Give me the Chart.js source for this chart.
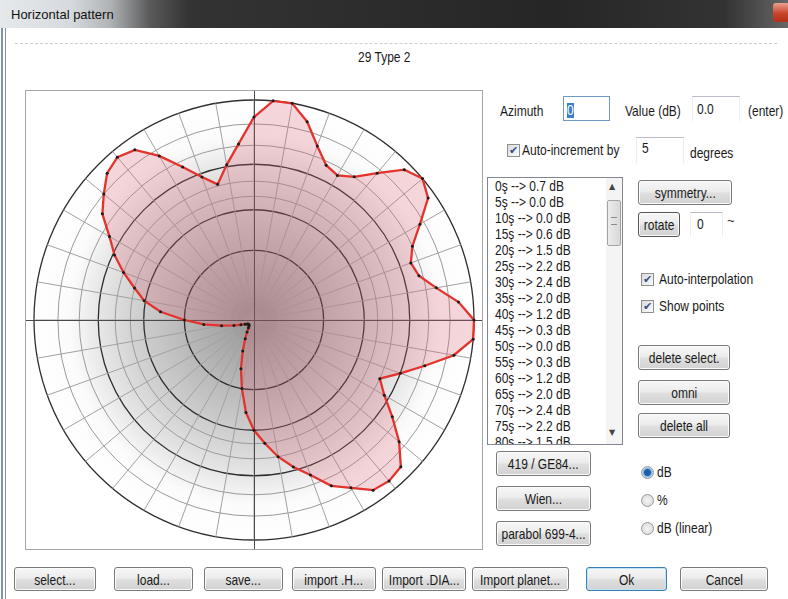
<!DOCTYPE html>
<html><head><meta charset="utf-8">
<script src="https://cdn.jsdelivr.net/npm/chart.js@4.4.1/dist/chart.umd.min.js"></script>
<style>
html,body{margin:0;padding:0;}
body{width:788px;height:599px;position:relative;overflow:hidden;background:#fff;
  font-family:'Liberation Sans',Arial,sans-serif;font-size:15px;color:#1a1a1a;}
.a{position:absolute;white-space:nowrap;line-height:16px;}
.n{display:inline-block;transform:scaleX(0.8);transform-origin:0 50%;}
#titlebar{left:0;top:0;width:788px;height:28px;
  background:linear-gradient(90deg,#e6e9ec 0%,#d6dade 9%,#b0b3b6 14%,#5a5a5a 19%,#333 24%,#262626 70%,#333 92%,#666 100%);}
#titletext{left:11px;top:7px;font-size:13px;color:#111;}
#closebtn{left:773px;top:3px;width:15px;height:19px;background:linear-gradient(#e9a090,#c8452a 55%,#b03018);border-radius:3px 0 0 3px;}
.btn{position:absolute;box-sizing:border-box;border:1px solid #7a7a7a;border-radius:3px;white-space:nowrap;
  background:linear-gradient(#f7f7f7 0%,#ececec 45%,#dedede 55%,#d2d2d2 100%);
  box-shadow:inset 0 0 0 1px #fbfbfb;display:flex;align-items:center;justify-content:center;font-size:15px;color:#1a1a1a;}
.btn span{display:inline-block;transform:scaleX(0.8);flex:none;}
.cb{position:absolute;box-sizing:border-box;width:13px;height:13px;border:1px solid #8e8f8f;
  background:linear-gradient(135deg,#dcdcdc,#fafafa);font-family:'DejaVu Sans',sans-serif;font-size:11px;line-height:11px;text-align:center;color:#3b4f8c;}
.rb{position:absolute;box-sizing:border-box;width:13px;height:13px;border:1px solid #9a9a9a;border-radius:50%;
  background:radial-gradient(circle,#f4f4f4,#d6d6d6);}
.row{position:absolute;left:495px;height:16px;line-height:16px;font-size:15px;white-space:nowrap;}
.inp{position:absolute;box-sizing:border-box;border-top:1px solid #b8bcc4;border-left:1px solid #eceef2;border-right:1px solid #eceef2;}
</style></head>
<body>
<div class="a" id="titlebar"></div>
<div class="a" id="titletext">Horizontal pattern</div>
<div class="a" id="closebtn"></div>
<div class="a" style="left:1px;top:28px;width:2px;height:571px;background:#8193ab;"></div>
<div class="a" style="left:5px;top:28px;width:1px;height:571px;background:#8193ab;"></div>
<div class="a" style="left:15px;top:43px;width:762px;height:0;border-top:1px dashed #cfcfcf;"></div>
<div class="a" style="left:358px;top:49px;"><span class="n">29 Type 2</span></div>

<div class="a" style="left:25px;top:90px;width:458px;height:460px;box-sizing:border-box;border:1px solid #a5a5a5;">
  <canvas id="c" width="456" height="458" style="display:block;width:456px;height:458px;"></canvas>
</div>

<!-- right panel -->
<div class="a" style="left:500px;top:103px;"><span class="n">Azimuth</span></div>
<div class="a" style="left:563px;top:96px;width:47px;height:25px;box-sizing:border-box;border:1px solid #6f9ac4;background:#fff;"></div>
<div class="a" style="left:567px;top:103px;width:7px;height:15px;background:#3b7fd0;"></div>
<div class="a" style="left:567px;top:102px;color:#fff;"><span class="n">0</span></div>
<div class="a" style="left:625px;top:103px;"><span class="n">Value (dB)</span></div>
<div class="inp" style="left:692px;top:96px;width:48px;height:25px;"></div>
<div class="a" style="left:697px;top:101px;"><span class="n">0.0</span></div>
<div class="a" style="left:748px;top:103px;"><span class="n">(enter)</span></div>

<div class="cb" style="left:507px;top:144px;">✔</div>
<div class="a" style="left:522px;top:142px;"><span class="n">Auto-increment by</span></div>
<div class="inp" style="left:636px;top:137px;width:48px;height:26px;"></div>
<div class="a" style="left:642px;top:140px;"><span class="n">5</span></div>
<div class="a" style="left:690px;top:145px;"><span class="n">degrees</span></div>

<!-- list box -->
<div class="a" style="left:487px;top:177px;width:136px;height:268px;box-sizing:border-box;border:1px solid #828790;background:#fff;"></div>
<div id="list"></div>
<div class="a" style="left:606px;top:178px;width:16px;height:266px;background:#f4f4f4;"></div>
<div class="a" style="left:609px;top:182px;font-family:'DejaVu Sans',sans-serif;font-size:8px;line-height:10px;color:#444;">▲</div>
<div class="a" style="left:609px;top:428px;font-family:'DejaVu Sans',sans-serif;font-size:8px;line-height:10px;color:#444;">▼</div>
<div class="a" style="left:607px;top:200px;width:14px;height:46px;box-sizing:border-box;border:1px solid #a4a4a4;border-radius:2px;background:linear-gradient(90deg,#ececec,#d8d8d8);"></div>
<div class="a" style="left:611px;top:217px;width:6px;height:8px;border-top:1px solid #8a8a8a;border-bottom:1px solid #8a8a8a;box-sizing:border-box;"></div>

<div class="btn" style="left:638px;top:180px;width:94px;height:25px;"><span>symmetry...</span></div>
<div class="btn" style="left:638px;top:212px;width:42px;height:25px;border-color:#555;"><span>rotate</span></div>
<div class="inp" style="left:690px;top:212px;width:33px;height:25px;"></div>
<div class="a" style="left:697px;top:216px;"><span class="n">0</span></div>
<div class="a" style="left:727px;top:213px;font-size:13px;">~</div>

<div class="cb" style="left:641px;top:273px;">✔</div>
<div class="a" style="left:659px;top:271px;"><span class="n">Auto-interpolation</span></div>
<div class="cb" style="left:641px;top:300px;">✔</div>
<div class="a" style="left:659px;top:298px;"><span class="n">Show points</span></div>

<div class="btn" style="left:638px;top:345px;width:92px;height:25px;"><span>delete select.</span></div>
<div class="btn" style="left:638px;top:380px;width:92px;height:25px;"><span>omni</span></div>
<div class="btn" style="left:638px;top:413px;width:92px;height:25px;"><span>delete all</span></div>

<div class="btn" style="left:496px;top:451px;width:95px;height:25px;"><span>419 / GE84...</span></div>
<div class="btn" style="left:496px;top:486px;width:95px;height:25px;"><span>Wien...</span></div>
<div class="btn" style="left:496px;top:521px;width:95px;height:25px;"><span>parabol 699-4...</span></div>

<div class="rb" style="left:641px;top:466px;background:radial-gradient(circle,#1d5fa8 0 3px,#7fb0e0 4px,#e8eef5 6px);"></div>
<div class="a" style="left:657px;top:464px;"><span class="n">dB</span></div>
<div class="rb" style="left:641px;top:494px;"></div>
<div class="a" style="left:657px;top:492px;"><span class="n">%</span></div>
<div class="rb" style="left:641px;top:522px;"></div>
<div class="a" style="left:657px;top:520px;"><span class="n">dB (linear)</span></div>

<!-- bottom buttons -->
<div class="btn" style="left:14px;top:567px;width:82px;height:24px;"><span>select...</span></div>
<div class="btn" style="left:114px;top:567px;width:79px;height:24px;"><span>load...</span></div>
<div class="btn" style="left:204px;top:567px;width:79px;height:24px;"><span>save...</span></div>
<div class="btn" style="left:292px;top:567px;width:84px;height:24px;"><span>import .H...</span></div>
<div class="btn" style="left:382px;top:567px;width:84px;height:24px;"><span>Import .DIA...</span></div>
<div class="btn" style="left:472px;top:567px;width:97px;height:24px;"><span>Import planet...</span></div>
<div class="btn" style="left:586px;top:567px;width:81px;height:24px;border-color:#3c7fb1;box-shadow:inset 0 0 0 1px #bfe3f7;"><span>Ok</span></div>
<div class="btn" style="left:680px;top:567px;width:88px;height:24px;"><span>Cancel</span></div>

<script>
// ---- data ----
const azimuths = [0,5,10,15,20,25,30,35,40,45,50,55,60,65,70,75,80,85,90,95,100,105,110,115,120,125,130,135,140,145,150,155,160,165,170,175,180,185,190,195,200,205,210,215,220,225,230,235,240,245,250,255,260,265,270,275,280,285,290,295,300,305,310,315,320,325,330,335,340,345,350,355];
const attenuationDb = [0.7,0.0,0.0,0.6,1.5,2.2,2.4,2.0,1.2,0.3,0.0,0.3,1.2,2.0,2.4,2.2,1.5,0.6,0.0,0.0,0.7,1.9,3.0,4.0,3.3,2.3,1.3,0.5,0.4,0.5,1.1,1.6,2.5,3.2,4.0,5.0,6.0,7.5,10.0,12.8,16.5,20.5,24,27,29,30,30,30,29,27,24,20.5,16.5,12.8,10.0,7.4,5.9,5.0,4.0,3.1,2.4,1.5,1.0,0.5,0.3,0.5,1.3,2.3,3.2,3.9,2.9,1.9];
const ringDb = [-30,-20,-10,-6,-5,-4,-3,-2,-1,0];
const darkRingDb = [-10,-6,-3,0];
const visibleListCount = 17;

// ---- list box rows ----
const listEl = document.getElementById('list');
for (let i = 0; i < visibleListCount; i++) {
  const d = document.createElement('div');
  d.className = 'row';
  d.style.top = (178 + i * 16) + 'px';
  const s = document.createElement('span');
  s.className = 'n';
  s.textContent = azimuths[i] + 'ş --> ' + attenuationDb[i].toFixed(1) + ' dB';
  d.appendChild(s);
  if (i === visibleListCount - 1) { d.style.height = '10px'; d.style.overflow = 'hidden'; }
  listEl.appendChild(d);
}

// ---- chart ----
const polarDecor = {
  id: 'polarDecor',
  beforeDraw(chart) {
    const s = chart.scales.r, ctx = chart.ctx, R = s.drawingArea;
    const g = ctx.createRadialGradient(s.xCenter, s.yCenter, 0, s.xCenter, s.yCenter, R);
    g.addColorStop(0, '#8c8c8c');
    g.addColorStop(0.12, '#a4a4a4');
    g.addColorStop(0.35, '#bcbcbc');
    g.addColorStop(0.55, '#d2d2d2');
    g.addColorStop(0.72, '#e8e8e8');
    g.addColorStop(0.84, '#fbfbfb');
    g.addColorStop(1, '#ffffff');
    ctx.save();
    ctx.fillStyle = g;
    ctx.beginPath(); ctx.arc(s.xCenter, s.yCenter, R, 0, Math.PI * 2); ctx.fill();
    ctx.restore();
  },
  beforeDatasetsDraw(chart) {
    const s = chart.scales.r, ctx = chart.ctx;
    ctx.save();
    ctx.strokeStyle = '#4a4a4a'; ctx.lineWidth = 1;
    ctx.beginPath();
    ctx.moveTo(0, s.yCenter + 0.5); ctx.lineTo(chart.width, s.yCenter + 0.5);
    ctx.moveTo(s.xCenter + 0.5, 0); ctx.lineTo(s.xCenter + 0.5, chart.height);
    ctx.stroke();
    ctx.restore();
  }
};

new Chart(document.getElementById('c'), {
  type: 'radar',
  data: {
    labels: azimuths.map(String),
    datasets: [{
      data: attenuationDb.map(d => Math.pow(10, -d / 20)),
      borderColor: '#e2332c',
      borderWidth: 2.3,
      backgroundColor: 'rgba(218,98,116,0.25)',
      fill: true,
      tension: 0,
      pointRadius: 1.5,
      pointBackgroundColor: '#1c1c1c',
      pointBorderWidth: 0,
      pointHoverRadius: 0
    }]
  },
  options: {
    responsive: false,
    animation: false,
    events: [],
    layout: { padding: 8 },
    plugins: { legend: { display: false }, tooltip: { enabled: false } },
    scales: {
      r: {
        min: 0, max: 1,
        afterBuildTicks: (scale) => {
          scale.ticks = [{ value: 0, db: null }].concat(ringDb.map(d => ({ value: Math.pow(10, d / 20), db: d })));
        },
        ticks: { display: false },
        pointLabels: { display: false },
        grid: {
          circular: true,
          color: (c) => (c.tick && darkRingDb.includes(c.tick.db)) ? '#2e2e2e' : '#9b9b9b',
          lineWidth: (c) => (c.tick && darkRingDb.includes(c.tick.db)) ? 1.3 : 1
        },
        angleLines: {
          display: true,
          color: '#a2a2a2',
          lineWidth: (c) => (c.index % 2 === 0) ? 1 : 0
        }
      }
    }
  },
  plugins: [polarDecor]
});
</script>
</body></html>
